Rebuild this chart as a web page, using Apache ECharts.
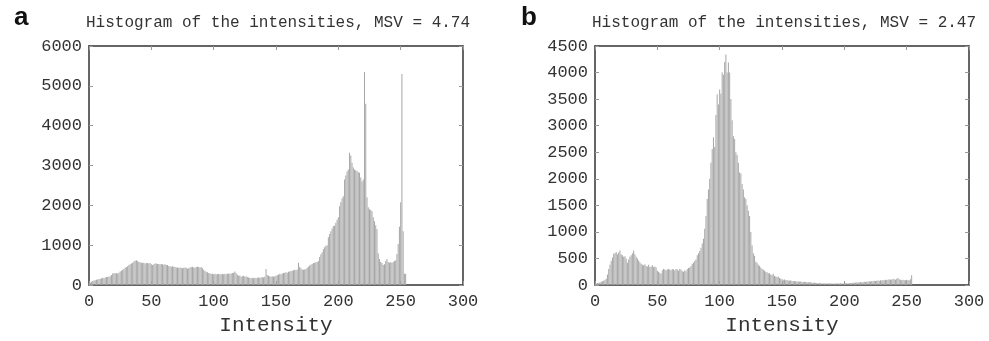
<!DOCTYPE html>
<html>
<head>
<meta charset="utf-8">
<script src="https://cdn.jsdelivr.net/npm/echarts@6/dist/echarts.min.js"></script>
<style>
html,body{margin:0;padding:0;background:#fff;}
#chart{width:989px;height:341px;}
</style>
</head>
<body>
<div id="chart"></div>
<script>
// Panel titles
var titleA = 'Histogram of the intensities, MSV = 4.74';
var titleB = 'Histogram of the intensities, MSV = 2.47';
var xLabel = 'Intensity';

// Axis ticks
var xTicks = [0, 50, 100, 150, 200, 250, 300];
var yTicksA = [0, 1000, 2000, 3000, 4000, 5000, 6000];
var yTicksB = [0, 500, 1000, 1500, 2000, 2500, 3000, 3500, 4000, 4500];

// Histogram counts, intensity bins 0..255 (panel a)
var countsA = [
 40, 60, 80, 100, 110, 120, 130, 140, 150, 150,
 170, 180, 170, 190, 200, 210, 210, 220, 250, 290,
 300, 290, 300, 290, 310, 340, 360, 380, 400, 430,
 450, 470, 500, 520, 540, 560, 590, 610, 620, 600,
 580, 570, 560, 550, 560, 540, 550, 550, 540, 550,
 520, 500, 520, 540, 540, 530, 530, 520, 530, 520,
 510, 520, 500, 500, 480, 470, 460, 470, 460, 450,
 440, 440, 430, 440, 430, 420, 430, 440, 430, 410,
 420, 440, 450, 460, 440, 430, 450, 460, 450, 440,
 450, 420, 380, 350, 330, 320, 300, 290, 280, 280,
 270, 280, 270, 270, 280, 270, 270, 280, 270, 280,
 270, 290, 280, 280, 290, 300, 310, 340, 300, 260,
 230, 240, 210, 220, 230, 210, 220, 200, 190, 180,
 170, 180, 170, 180, 170, 180, 190, 180, 190, 200,
 190, 210, 400, 250, 230, 220, 210, 220, 210, 220,
 230, 250, 260, 280, 270, 290, 300, 310, 320, 310,
 330, 340, 350, 360, 370, 380, 370, 390, 560, 460,
 420, 390, 380, 390, 400, 430, 460, 490, 510, 530,
 550, 560, 570, 580, 600, 700, 770, 820, 900, 950,
 985, 1000, 1200, 1280, 1350, 1420, 1480, 1490, 1560, 1640,
 1700, 1980, 2080, 2180, 2230, 2650, 2750, 2850, 2900, 3320,
 3250, 3070, 2950, 2900, 2880, 2860, 2830, 2820, 2700, 2600,
 2650, 5350, 4550, 2200, 1950, 1900, 1880, 1850, 1700, 1600,
 1500, 1400, 800, 650, 580, 550, 500, 520, 600, 650,
 580, 560, 570, 560, 580, 600, 620, 780, 1030, 1460,
 2080, 5300, 1350, 280, 280, 0
];

// Histogram counts, intensity bins 0..255 (panel b)
var countsB = [
 20, 30, 40, 40, 50, 60, 70, 80, 100, 120,
 200, 300, 380, 450, 520, 590, 600, 620, 580, 610,
 650, 580, 560, 530, 540, 500, 420, 480, 530, 560,
 600, 650, 580, 530, 500, 460, 430, 400, 380, 370,
 390, 360, 350, 380, 340, 350, 370, 340, 350, 330,
 270, 250, 230, 210, 280, 300, 290, 280, 290, 300,
 290, 280, 300, 290, 280, 300, 290, 270, 300, 290,
 260, 250, 280, 260, 300, 320, 330, 360, 400, 420,
 450, 480, 560, 600, 640, 700, 780, 870, 1060, 1300,
 1620, 1800, 2000, 2300, 2560, 2780, 2600, 3200, 3590, 3400,
 3680, 3600, 4000, 3960, 4200, 4340, 4000, 4190, 4000, 3500,
 3100, 2800, 2750, 2500, 2450, 2300, 2120, 2100, 1900, 1800,
 1650, 1620, 1500, 1400, 1300, 1000, 750, 600, 550, 440,
 420, 380, 360, 330, 300, 290, 270, 250, 240, 220,
 220, 200, 190, 210, 170, 160, 150, 160, 130, 120,
 110, 100, 105, 90, 95, 85, 80, 90, 75, 70,
 75, 70, 65, 70, 60, 65, 60, 55, 60, 55,
 50, 55, 45, 50, 45, 40, 45, 40, 40, 35,
 40, 35, 30, 35, 30, 35, 30, 30, 35, 30,
 30, 25, 30, 30, 35, 30, 30, 35, 30, 30,
 30, 35, 35, 30, 40, 35, 40, 45, 40, 45,
 45, 50, 45, 55, 50, 55, 60, 55, 65, 60,
 70, 65, 75, 70, 80, 75, 80, 85, 80, 90,
 85, 95, 90, 100, 95, 100, 110, 100, 105, 115,
 110, 100, 120, 130, 110, 100, 90, 100, 95, 90,
 100, 95, 90, 110, 185, 0
];

function pairs(arr) {
  var out = [];
  for (var i = 0; i < arr.length; i++) out.push([i, arr[i]]);
  return out;
}

var MONO = '"Liberation Mono", "DejaVu Sans Mono", monospace';
var TXT = '#333';
function plain(v) { return String(v); }

function xAx(gi, top) {
  return {
    type: 'value', gridIndex: gi, position: top ? 'top' : 'bottom',
    min: xTicks[0], max: xTicks[xTicks.length - 1], interval: xTicks[1] - xTicks[0],
    axisLine: {show: true, onZero: false, lineStyle: {color: '#333', width: 1.5}},
    axisTick: {show: true, inside: true, length: 4, lineStyle: {color: '#999'}},
    axisLabel: top ? {show: false} : {show: true, fontFamily: MONO, fontSize: 17, color: TXT, margin: 8, formatter: plain},
    splitLine: {show: false},
    name: top ? '' : xLabel, nameLocation: 'middle', nameGap: 30,
    nameTextStyle: {fontFamily: MONO, fontSize: 21, color: TXT}
  };
}
function yAx(gi, ticks, right) {
  return {
    type: 'value', gridIndex: gi, position: right ? 'right' : 'left',
    min: ticks[0], max: ticks[ticks.length - 1], interval: ticks[1] - ticks[0],
    axisLine: {show: true, onZero: false, lineStyle: {color: '#333', width: 1.5}},
    axisTick: {show: true, inside: true, length: 4, lineStyle: {color: '#999'}},
    axisLabel: right ? {show: false} : {show: true, fontFamily: MONO, fontSize: 17, color: TXT, margin: 7, formatter: plain},
    splitLine: {show: false}
  };
}

var barStyle = {color: '#a6a6a6'};

var chart = echarts.init(document.getElementById('chart'), null, {renderer: 'canvas'});
chart.setOption({
  animation: false,
  backgroundColor: '#fff',
  title: [
    {text: titleA, left: 273, top: 10, textAlign: 'center',
     textStyle: {fontFamily: MONO, fontSize: 16, fontWeight: 'normal', color: TXT}},
    {text: titleB, left: 779, top: 10, textAlign: 'center',
     textStyle: {fontFamily: MONO, fontSize: 16, fontWeight: 'normal', color: TXT}},
    {text: 'a', left: 9, top: 0,
     textStyle: {fontFamily: '"Liberation Sans", Arial, sans-serif', fontSize: 26, fontWeight: 'bold', color: '#111'}},
    {text: 'b', left: 516, top: 0,
     textStyle: {fontFamily: '"Liberation Sans", Arial, sans-serif', fontSize: 26, fontWeight: 'bold', color: '#111'}}
  ],
  grid: [
    {left: 89, top: 46, width: 374, height: 240},
    {left: 595, top: 46, width: 374, height: 240}
  ],
  xAxis: [xAx(0, false), xAx(0, true), xAx(1, false), xAx(1, true)],
  yAxis: [yAx(0, yTicksA, false), yAx(0, yTicksA, true), yAx(1, yTicksB, false), yAx(1, yTicksB, true)],
  series: [
    {type: 'bar', xAxisIndex: 0, yAxisIndex: 0, data: pairs(countsA), barWidth: 1, itemStyle: barStyle},
    {type: 'bar', xAxisIndex: 2, yAxisIndex: 2, data: pairs(countsB), barWidth: 1, itemStyle: barStyle}
  ]
});
</script>
</body>
</html>
